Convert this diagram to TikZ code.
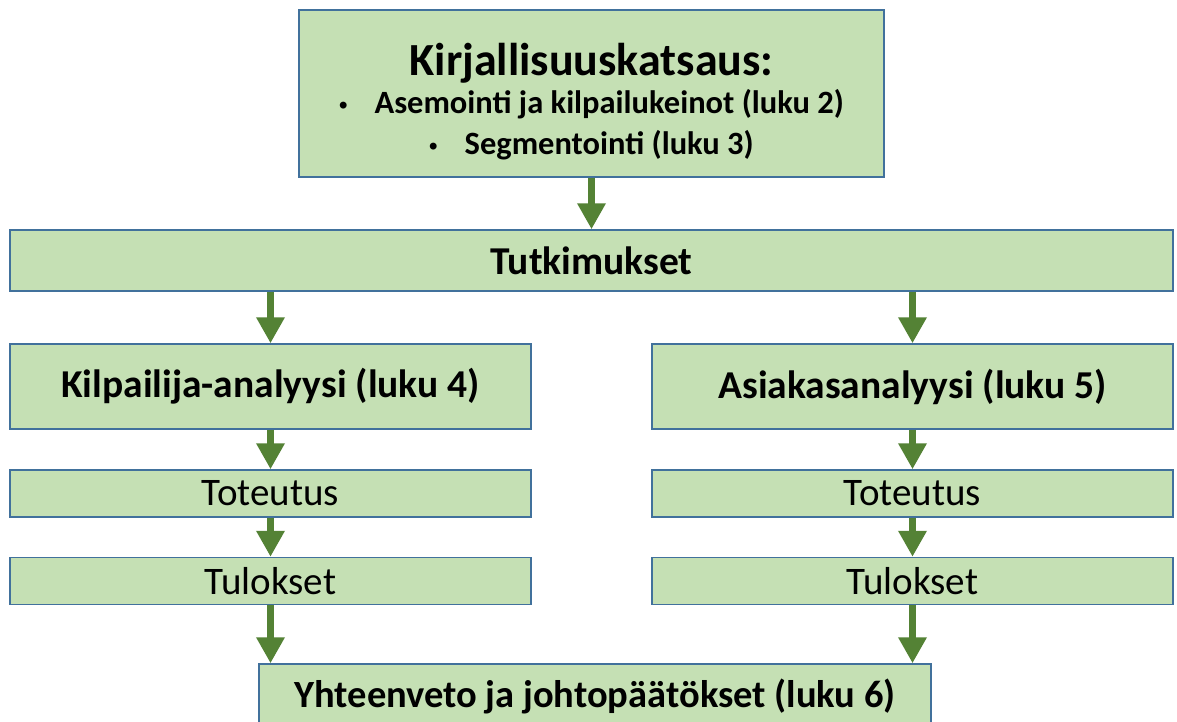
\documentclass[tikz,border=0pt]{standalone}
\usepackage{fontspec}
\setmainfont{Carlito}
\newfontfamily\bulletfont{Liberation Sans}
\usetikzlibrary{arrows.meta, positioning}
\definecolor{boxGreen}{RGB}{197, 224, 180}
\definecolor{boxBlue}{RGB}{65, 113, 156}
\definecolor{arrowGreen}{RGB}{84, 130, 53}

\newcommand{\bulletitem}{{\bulletfont\fontsize{24}{24}\selectfont •}\hspace{27pt}}

\tikzset{
    stagebox/.style={draw=boxBlue, fill=boxGreen, line width=1.5pt, align=center, inner sep=0pt},
    flow/.style={draw=arrowGreen, line width=7pt, -{Triangle[length=26pt, width=27pt]}}
}

\begin{document}
\begin{tikzpicture}[x=1pt, y=-1pt]
    \clip (0,0) rectangle (1177,722);
    \fill[white] (0,0) rectangle (1177,722);

    \node[stagebox, minimum width=585pt, minimum height=167pt,
          font=\fontsize{32.5}{41}\selectfont\bfseries] (lit) at (591.5,93.5) {
        \rule{0pt}{49pt}{\fontsize{46}{50}\selectfont Kirjallisuuskatsaus:}\\[-3pt]
        \bulletitem Asemointi ja kilpailukeinot (luku 2)\\
        \bulletitem Segmentointi (luku 3)
    };
    \node[stagebox, minimum width=1163pt, minimum height=61pt] (tutk) at (591.5,260.5)
        {\fontsize{39.5}{44}\selectfont\textbf{Tutkimukset}};

    \node[stagebox, minimum width=521pt, minimum height=85pt] (kilp) at (270.5,386.5)
        {\fontsize{39.5}{44}\selectfont\textbf{Kilpailija-analyysi (luku 4)}};
    \node[stagebox, minimum width=521pt, minimum height=85pt] (asiak) at (912.5,386.5)
        {\fontsize{39.5}{44}\selectfont\textbf{Asiakasanalyysi (luku 5)}};

    \node[stagebox, minimum width=521pt, minimum height=47pt] (tot1) at (270.5,493.5)
        {\fontsize{39}{44}\selectfont Toteutus};
    \node[stagebox, minimum width=521pt, minimum height=47pt] (tul1) at (270.5,581)
        {\fontsize{39}{44}\selectfont Tulokset};
    \node[stagebox, minimum width=521pt, minimum height=47pt] (tot2) at (912.5,493.5)
        {\fontsize{39}{44}\selectfont Toteutus};
    \node[stagebox, minimum width=521pt, minimum height=47pt] (tul2) at (912.5,581)
        {\fontsize{39}{44}\selectfont Tulokset};

    \node[stagebox, minimum width=672pt, minimum height=64pt] (yht) at (595,696)
        {\fontsize{38.5}{44}\selectfont\textbf{Yhteenveto ja johtopäätökset (luku 6)}};

    % arrows
    \draw[flow] (lit.south) -- (tutk.north -| lit.south);
    \draw[flow] (kilp.north |- tutk.south) -- (kilp.north);
    \draw[flow] (asiak.north |- tutk.south) -- (asiak.north);
    \draw[flow] (kilp.south) -- (tot1.north);
    \draw[flow] (tot1.south) -- (tul1.north);
    \draw[flow] (asiak.south) -- (tot2.north);
    \draw[flow] (tot2.south) -- (tul2.north);
    \draw[flow] (tul1.south) -- (tul1.south |- yht.north);
    \draw[flow] (tul2.south) -- (tul2.south |- yht.north);
\end{tikzpicture}
\end{document}
